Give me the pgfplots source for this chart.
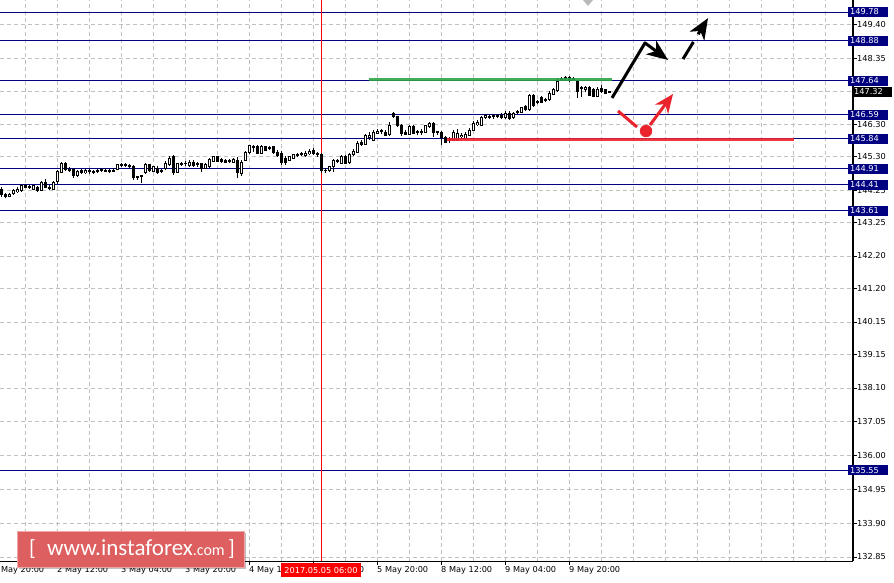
\documentclass[border=0pt]{standalone}
\usepackage{pgfplots}
\pgfplotsset{compat=1.18}
\usepackage{pgfplotstable}
\usepackage{fontspec}
\setmainfont{DejaVu Sans}
\newfontfamily\logofont{Carlito}
\usetikzlibrary{arrows.meta}
\definecolor{navy}{RGB}{0,0,128}
\definecolor{gridgray}{RGB}{192,192,192}
\definecolor{lvlgreen}{RGB}{46,165,70}
\definecolor{lvlred}{RGB}{235,35,45}
\definecolor{logored}{RGB}{221,95,95}
\definecolor{logoedge}{RGB}{238,165,165}
\newcommand{\nv}[1]{\hspace*{-5pt}{\setlength{\fboxsep}{2pt}\colorbox{navy}{\makebox[36pt][l]{\textcolor{white}{#1}}}}}
\newcommand{\bk}[1]{\hspace*{-5pt}{\setlength{\fboxsep}{2pt}\colorbox{black}{\makebox[36pt][l]{\textcolor{white}{#1}}}}}
\newcommand{\tf}{\fontsize{8.2}{9}\selectfont}

\pgfplotstableread{
k o h l c
0 144.28 144.34 144.03 144.10
1 144.10 144.16 144.00 144.06
2 144.06 144.16 144.03 144.10
3 144.13 144.28 144.10 144.25
4 144.19 144.34 144.16 144.28
5 144.22 144.44 144.19 144.38
6 144.38 144.44 144.31 144.34
7 144.34 144.41 144.28 144.35
8 144.28 144.41 144.25 144.38
9 144.34 144.38 144.19 144.22
10 144.25 144.53 144.22 144.47
11 144.47 144.59 144.31 144.34
12 144.34 144.41 144.25 144.31
13 144.28 144.53 144.25 144.47
14 144.50 144.87 144.44 144.81
15 144.81 145.12 144.78 145.06
16 145.06 145.12 144.84 144.90
17 144.90 144.97 144.81 144.87
18 144.90 144.93 144.62 144.69
19 144.69 144.87 144.65 144.84
20 144.87 144.90 144.75 144.78
21 144.78 144.90 144.75 144.87
22 144.84 144.90 144.75 144.85
23 144.81 144.87 144.75 144.84
24 144.84 144.90 144.78 144.87
25 144.87 144.93 144.81 144.88
26 144.87 144.93 144.81 144.84
27 144.84 144.90 144.78 144.87
28 144.87 144.93 144.81 144.84
29 144.90 145.06 144.87 145.03
30 145.03 145.09 144.97 145.04
31 145.03 145.09 144.97 145.00
32 145.00 145.06 144.93 145.01
33 144.97 145.03 144.56 144.65
34 144.65 144.69 144.56 144.66
35 144.69 144.72 144.47 144.68
36 144.78 145.09 144.75 145.03
37 145.03 145.06 144.81 144.87
38 144.84 145.00 144.81 144.97
39 144.93 145.00 144.75 144.78
40 144.84 144.90 144.78 144.87
41 144.93 145.15 144.87 145.09
42 145.03 145.31 145.00 145.24
43 145.28 145.34 144.72 144.78
44 144.81 145.09 144.78 145.06
45 145.06 145.12 145.00 145.07
46 145.06 145.15 145.00 145.09
47 145.00 145.18 144.97 145.12
48 145.12 145.18 144.97 145.00
49 145.06 145.12 144.97 145.07
50 145.06 145.09 144.81 144.93
51 144.93 145.09 144.90 145.03
52 144.97 145.24 144.93 145.21
53 145.15 145.31 145.12 145.28
54 145.28 145.31 145.12 145.15
55 145.21 145.24 145.09 145.15
56 145.18 145.21 145.09 145.12
57 145.15 145.21 145.09 145.16
58 145.12 145.24 145.09 145.21
59 145.18 145.28 144.62 144.78
60 144.75 145.18 144.69 145.12
61 145.18 145.46 145.15 145.40
62 145.40 145.65 145.37 145.62
63 145.59 145.65 145.43 145.60
64 145.59 145.65 145.37 145.40
65 145.40 145.65 145.37 145.59
66 145.59 145.62 145.46 145.49
67 145.56 145.62 145.49 145.57
68 145.59 145.62 145.37 145.43
69 145.43 145.49 145.28 145.31
70 145.40 145.46 145.03 145.12
71 145.24 145.31 145.03 145.12
72 145.18 145.31 145.15 145.28
73 145.24 145.37 145.21 145.34
74 145.34 145.40 145.28 145.35
75 145.37 145.43 145.31 145.38
76 145.31 145.46 145.28 145.40
77 145.37 145.52 145.34 145.46
78 145.49 145.56 145.34 145.40
79 145.37 145.43 145.28 145.34
80 145.34 145.40 144.78 144.87
81 144.87 144.93 144.78 144.86
82 144.87 145.00 144.81 144.97
83 144.97 145.21 144.81 145.18
84 145.15 145.21 145.09 145.16
85 145.09 145.34 145.06 145.28
86 145.28 145.34 145.06 145.09
87 145.09 145.40 145.06 145.34
88 145.34 145.52 145.31 145.46
89 145.43 145.77 145.40 145.71
90 145.74 145.80 145.62 145.65
91 145.68 145.99 145.65 145.93
92 145.87 146.05 145.80 145.96
93 145.80 146.11 145.77 146.05
94 146.02 146.15 145.99 146.08
95 146.08 146.15 145.99 146.11
96 146.05 146.11 145.93 145.96
97 145.96 146.36 145.93 146.24
98 146.64 146.67 146.49 146.52
99 146.52 146.55 146.21 146.24
100 146.24 146.30 145.93 146.02
101 146.05 146.11 145.96 145.99
102 145.99 146.27 145.96 146.21
103 146.21 146.27 145.99 146.02
104 146.05 146.11 145.96 146.06
105 146.05 146.15 145.96 146.08
106 146.05 146.27 146.02 146.24
107 146.21 146.36 146.18 146.33
108 146.33 146.36 145.90 146.05
109 146.05 146.08 145.96 146.06
110 146.05 146.08 145.65 145.87
111 145.87 145.93 145.71 145.74
112 145.80 145.90 145.71 145.81
113 145.80 146.11 145.77 146.05
114 145.80 146.15 145.77 146.02
115 145.90 146.02 145.87 145.96
116 145.84 146.05 145.80 145.99
117 145.96 146.18 145.93 146.11
118 146.11 146.39 146.08 146.33
119 146.27 146.43 146.24 146.36
120 146.27 146.55 146.24 146.49
121 146.49 146.61 146.46 146.58
122 146.52 146.58 146.46 146.53
123 146.52 146.61 146.46 146.55
124 146.55 146.61 146.49 146.56
125 146.58 146.64 146.46 146.49
126 146.49 146.71 146.46 146.64
127 146.64 146.71 146.43 146.46
128 146.49 146.67 146.46 146.64
129 146.67 146.74 146.61 146.68
130 146.67 146.83 146.64 146.80
131 146.83 146.89 146.71 146.74
132 146.74 147.23 146.71 147.20
133 147.20 147.23 146.83 146.89
134 146.98 147.05 146.92 146.99
135 147.11 147.17 146.95 146.98
136 147.05 147.11 146.98 147.06
137 147.05 147.33 147.02 147.26
138 147.23 147.42 147.20 147.36
139 147.33 147.73 147.30 147.61
140 147.70 147.76 147.64 147.71
141 147.73 147.79 147.67 147.74
142 147.76 147.79 147.61 147.64
143 147.70 147.76 147.64 147.71
144 147.61 147.64 147.11 147.30
145 147.42 147.48 147.14 147.43
146 147.36 147.48 147.30 147.45
147 147.45 147.48 147.17 147.20
148 147.36 147.42 147.14 147.17
149 147.17 147.45 147.14 147.36
150 147.42 147.51 147.26 147.30
151 147.36 147.39 147.23 147.26
152 147.30 147.33 147.27 147.31
}\candles

\begin{document}
\begin{tikzpicture}
\path[use as bounding box] (0pt,0pt) rectangle (894pt,582pt);
\begin{axis}[
  at={(0pt,21pt)}, anchor=south west,
  scale only axis, width=853pt, height=561pt,
  xmin=-0.25, xmax=213, ymin=132.725, ymax=150.153,
  axis x line*=bottom, axis y line*=right,
  x axis line style={-, line width=1pt},
  y axis line style={-, line width=2pt},
  tick align=outside, major tick length=4pt,
  tick style={black, line width=0.8pt},
  ticklabel style={font=\tf, text=black},
  xtick={14,30,...,142},
  xticklabels={2 May 12:00, 3 May 04:00, 3 May 20:00, 4 May 12:00, 5 May 04:00, 5 May 20:00, 8 May 12:00, 9 May 04:00, 9 May 20:00},
  xticklabel style={anchor=north west, inner sep=0pt, yshift=-1pt},
  extra x ticks={6,14,...,206},
  extra x tick labels={},
  extra x tick style={grid=major, major tick length=0pt},
  ytick={149.40,148.35,147.30,146.30,145.30,144.25,143.25,142.20,141.20,140.15,139.15,138.10,137.05,136.00,134.95,133.90,132.85},
  yticklabels={149.40,148.35,\bk{147.32},146.30,145.30,144.25,143.25,142.20,141.20,140.15,139.15,138.10,137.05,136.00,134.95,133.90,132.85},
  yticklabel style={anchor=west, inner sep=0pt},
  ymajorgrids,
  major grid style={gridgray, dash pattern=on 4pt off 3pt, line width=0.8pt},
  extra y ticks={149.78,148.88,147.64,146.59,145.84,144.91,144.41,143.61,135.55},
  extra y tick labels={\nv{149.78},\nv{148.88},\nv{147.64},\nv{146.59},\nv{145.84},\nv{144.91},\nv{144.41},\nv{143.61},\nv{135.55}},
  extra y tick style={grid=major, major grid style={navy, solid, line width=1pt}, major tick length=0pt},
  clip mode=individual,
]
% crosshair at 2017.05.05 06:00
\addplot[red, line width=0.8pt, forget plot] coordinates {(80,132.725) (80,150.153)};
% wicks
\addplot[draw=none, mark=none, forget plot,
  error bars/.cd, y dir=both, y explicit, error mark=none,
  error bar style={draw=black, solid, line width=1pt}]
  table[x=k, y=l, y error plus expr={\thisrow{h}-\thisrow{l}}, y error minus expr={0}] {\candles};
% bodies (outline / bearish fill)
\addplot[draw=none, mark=none, forget plot,
  error bars/.cd, y dir=both, y explicit, error mark=none,
  error bar style={draw=black, solid, line width=3pt}]
  table[x=k, y expr={(\thisrow{o}+\thisrow{c})/2}, y error expr={abs(\thisrow{c}-\thisrow{o})/2+0.0155}] {\candles};
% bullish interiors
\addplot[draw=none, mark=none, forget plot,
  error bars/.cd, y dir=both, y explicit, error mark=none,
  error bar style={draw=white, solid, line width=1pt}]
  table[x=k, y expr={(\thisrow{o}+\thisrow{c})/2}, y error expr={(\thisrow{c}>\thisrow{o}) ? max((\thisrow{c}-\thisrow{o})/2-0.0155,0) : 0}] {\candles};
% levels
\addplot[lvlgreen, line width=3.5pt, opacity=0.9, forget plot] coordinates {(92,147.68) (152.75,147.68)};
\addplot[lvlred, line width=3.5pt, opacity=0.9, forget plot] coordinates {(111.5,145.82) (198.25,145.82)};
% forecast arrows
\addplot[black, line width=3pt, line join=round, -{Stealth[length=21pt,width=17pt,inset=6pt]}, forget plot] coordinates {(152.75,147.11) (161,148.82) (166.75,148.29)};
\addplot[black, line width=3pt, dash pattern=on 20pt off 9pt, -{Stealth[length=21pt,width=17pt,inset=6pt]}, forget plot] coordinates {(170.5,148.32) (176.75,149.59)};
\addplot[lvlred, line width=3pt, forget plot] coordinates {(154.25,146.705) (159,146.208)};
\addplot[lvlred, only marks, mark=*, mark size=6pt, forget plot] coordinates {(161.25,146.083)};
\addplot[lvlred, line width=3pt, -{Stealth[length=19pt,width=16pt,inset=6pt]}, forget plot] coordinates {(162.25,146.27) (168,147.233)};
% clipped first time label
\node[anchor=north west, inner sep=0pt, font=\tf, yshift=-5pt] at (axis cs:-2,132.725) {1 May 20:00};
\end{axis}
% chart shift marker
\fill[gray!55] (583pt,582pt) -- (593pt,582pt) -- (588pt,576pt) -- cycle;
% current crosshair time label
\node[fill=red, text=white, font=\tf, inner xsep=3pt, minimum height=14pt, anchor=north] at (321pt,19pt) {2017.05.05 06:00};
% logo
\fill[black, opacity=0.25] (19pt,13pt) rectangle (246pt,49pt);
\filldraw[fill=logored, draw=logoedge, line width=1pt] (17pt,15pt) rectangle (244pt,51pt);
\node[anchor=base west, inner sep=0pt, text=white] at (29pt,27pt) {\logofont\fontsize{22}{22}\selectfont [};
\node[anchor=base west, inner sep=0pt, text=white] at (47pt,27pt) {\logofont\fontsize{23}{23}\selectfont www.instaforex\fontsize{16}{16}\selectfont.com};
\node[anchor=base west, inner sep=0pt, text=white] at (228pt,27pt) {\logofont\fontsize{22}{22}\selectfont ]};
\end{tikzpicture}
\end{document}
